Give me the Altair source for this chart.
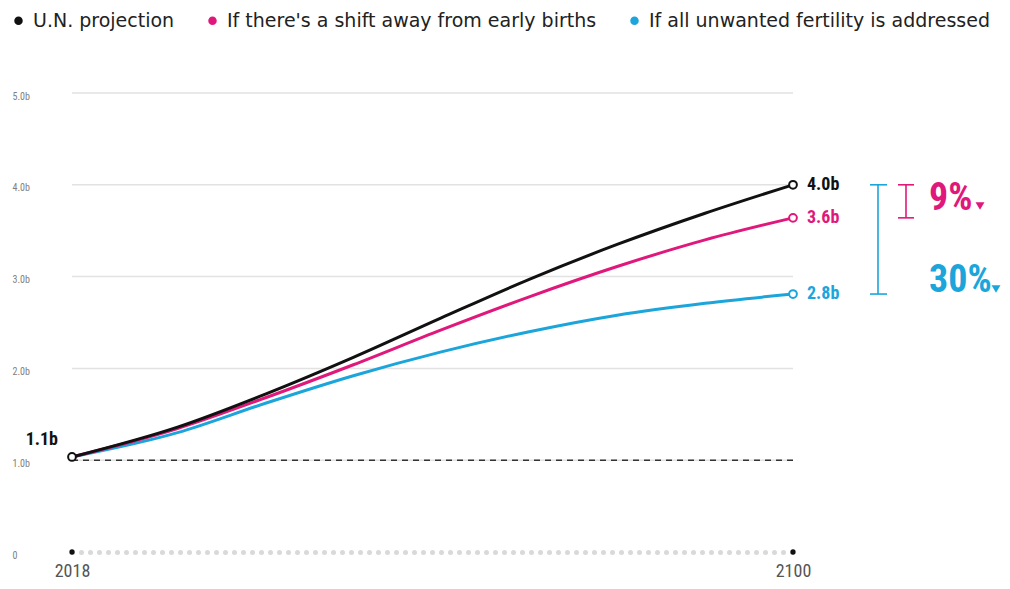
import altair as alt
import pandas as pd

# ---- data ----
years = [2018, 2030, 2040, 2050, 2060, 2070, 2080, 2090, 2100]
un_projection = [1.035, 1.36, 1.72, 2.12, 2.55, 2.97, 3.35, 3.69, 4.0]
early_births = [1.035, 1.345, 1.68, 2.04, 2.42, 2.78, 3.11, 3.40, 3.64]
unwanted = [1.035, 1.30, 1.62, 1.92, 2.18, 2.40, 2.58, 2.71, 2.81]

series_names = [
    "U.N. projection",
    "If there's a shift away from early births",
    "If all unwanted fertility is addressed",
]
series_colors = ["#111111", "#e0187c", "#1ba5db"]
end_labels = ["4.0b", "3.6b", "2.8b"]
start_label = "1.1b"
grid_values = [1, 2, 3, 4, 5]
y_tick_values = [0, 1, 2, 3, 4, 5]
x_tick_values = [2018, 2100]
baseline_value = 1.0
pct_labels = ["9%", "30%"]

COND = "Roboto Condensed, Roboto, sans-serif"
LEG = "DejaVu Sans, sans-serif"

series_values = [un_projection, early_births, unwanted]
rows = []
for name, vals in zip(series_names, series_values):
    for yr, v in zip(years, vals):
        rows.append({"year": yr, "value": v, "series": name})
lines_df = pd.DataFrame(rows)

ends_df = pd.DataFrame({
    "year": [years[-1]] * 3,
    "value": [vals[-1] for vals in series_values],
    "series": series_names,
    "label": end_labels,
})
start_df = pd.DataFrame({"year": [years[0]], "value": [un_projection[0]],
                         "series": [series_names[0]], "label": [start_label]})
grid_df = pd.DataFrame({"value": grid_values})
base_df = pd.DataFrame({"value": [baseline_value]})
axis_dots_df = pd.DataFrame({"year": x_tick_values, "value": [0, 0]})

xscale = alt.Scale(domain=[x_tick_values[0], x_tick_values[-1]], nice=False, zero=False)
yscale = alt.Scale(domain=[0, 5], nice=False)
cscale = alt.Scale(domain=series_names, range=series_colors)

x_axis = alt.Axis(values=x_tick_values, format="d", title=None, ticks=False, grid=False,
                  labelFont=COND, labelFontSize=18, labelColor="#555", labelPadding=10,
                  labelFlush=False,
                  domainColor="#d9d9d9", domainWidth=5, domainDash=[0, 9], domainCap="round")
y_axis = alt.Axis(values=y_tick_values, title=None, ticks=False, grid=False, domain=False,
                  labelExpr="datum.value == 0 ? '0' : format(datum.value, '.1f') + 'b'",
                  labelAlign="left", labelPadding=60, labelFont=COND, labelFontSize=10,
                  labelColor="#808080", labelOffset=3)
legend = alt.Legend(orient="none", legendX=-63, legendY=-82, direction="horizontal", title=None,
                    labelFont=LEG, labelFontSize=19, labelColor="#222",
                    symbolType="circle", symbolSize=16, symbolStrokeWidth=4.5, symbolOpacity=1,
                    labelOffset=5, columnPadding=26, labelLimit=500)

X = alt.X("year:Q", scale=xscale, axis=x_axis)
Y = alt.Y("value:Q", scale=yscale, axis=y_axis)
C = alt.Color("series:N", scale=cscale, legend=legend)

grid = alt.Chart(grid_df).mark_rule(color="#e2e2e2", strokeWidth=1.5).encode(y=Y)
baseline = alt.Chart(base_df).mark_rule(color="#333", strokeWidth=1.5, strokeDash=[6, 5]).encode(y=Y)

line_layers = []
for name in reversed(series_names):
    line_layers.append(
        alt.Chart(lines_df).transform_filter(alt.datum.series == name)
        .mark_line(interpolate="monotone", strokeWidth=3)
        .encode(x=X, y=Y, color=C)
    )

end_points = alt.Chart(ends_df).mark_point(filled=False, fill="white", size=60, strokeWidth=2,
                                           opacity=1).encode(x=X, y=Y, color=C)
start_point = alt.Chart(start_df).mark_point(filled=False, fill="white", size=60, strokeWidth=2,
                                             opacity=1, color="#111").encode(x=X, y=Y)

end_text = alt.Chart(ends_df).mark_text(align="left", dx=14, font=COND, fontSize=18,
                                        fontWeight="bold").encode(
    x=X, y=Y, text="label:N", color=C)
start_text = alt.Chart(start_df).mark_text(align="right", dx=-14, dy=-17, font=COND, fontSize=18,
                                           fontWeight="bold", color="#111").encode(
    x=X, y=Y, text="label:N")

axis_dots = alt.Chart(axis_dots_df).mark_circle(size=28, color="#111", opacity=1).encode(x=X, y=Y)

# ---- brackets on the right ----
pink, blue = series_colors[1], series_colors[2]
br_df = pd.DataFrame({"value": [un_projection[-1]], "pink_bot": [early_births[-1]],
                      "blue_bot": [unwanted[-1]]})


def vrule(col_bot, xpx, color):
    return alt.Chart(br_df).mark_rule(color=color, strokeWidth=1.6).encode(
        x=alt.value(xpx), y=Y, y2=f"{col_bot}:Q")


def hcap(col, x1, x2, color):
    return alt.Chart(br_df).transform_calculate(value=f"datum.{col}").mark_rule(
        color=color, strokeWidth=1.6).encode(x=alt.value(x1), x2=alt.value(x2), y=Y)


brackets = [
    vrule("blue_bot", 806, blue), hcap("value", 798, 815, blue), hcap("blue_bot", 798, 815, blue),
    vrule("pink_bot", 834, pink), hcap("value", 826, 842, pink), hcap("pink_bot", 826, 842, pink),
]

pct9 = alt.Chart(pd.DataFrame({"t": [pct_labels[0]]})).mark_text(
    align="left", baseline="middle", font=COND, fontSize=38, fontWeight="bold", color=pink).encode(
    x=alt.value(857), y=alt.value(106), text="t:N")
pct30 = alt.Chart(pd.DataFrame({"t": [pct_labels[1]]})).mark_text(
    align="left", baseline="middle", font=COND, fontSize=38, fontWeight="bold", color=blue).encode(
    x=alt.value(857), y=alt.value(188), text="t:N")
tri9 = alt.Chart(pd.DataFrame({"t": [0]})).mark_point(
    shape="triangle-down", filled=True, size=80, color=pink, opacity=1).encode(
    x=alt.value(908), y=alt.value(113))
tri30 = alt.Chart(pd.DataFrame({"t": [0]})).mark_point(
    shape="triangle-down", filled=True, size=80, color=blue, opacity=1).encode(
    x=alt.value(924), y=alt.value(196))

chart = alt.layer(
    grid, baseline, *line_layers, axis_dots, start_point, end_points,
    end_text, start_text, *brackets, pct9, pct30, tri9, tri30,
).properties(
    width=721, height=459,
    background="white",
    autosize=alt.AutoSizeParams(type="none"),
    padding={"left": 64, "top": 85, "right": 209, "bottom": 29},
).configure_view(stroke=None)

chart.save("out.html", embed_options={"renderer": "svg", "actions": False})
